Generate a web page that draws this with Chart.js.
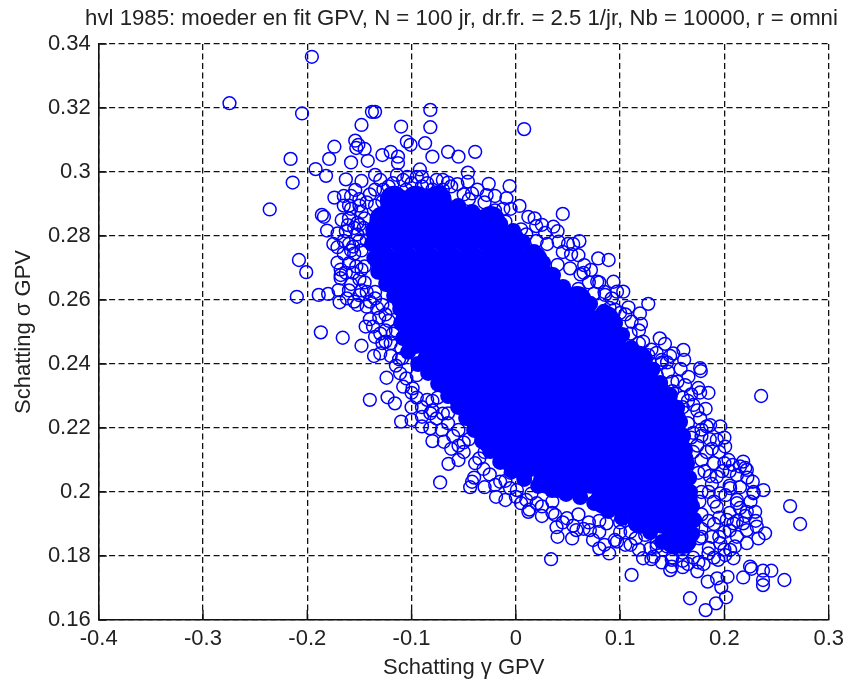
<!DOCTYPE html>
<html><head><meta charset="utf-8">
<style>html,body{margin:0;padding:0;background:#fff}#w{width:843px;height:686px}</style>
<script src="https://cdn.jsdelivr.net/npm/chart.js@4"></script>
</head><body><div id="w"><canvas id="c"></canvas></div>
<script>
const titleText = "hvl 1985: moeder en fit GPV, N = 100 jr, dr.fr. = 2.5 1/jr, Nb = 10000, r = omni";
const xLabel = "Schatting γ GPV";
const yLabel = "Schatting σ GPV";
const xTicks = [-0.4,-0.3,-0.2,-0.1,0,0.1,0.2,0.3];
const yTicks = [0.16,0.18,0.2,0.22,0.24,0.26,0.28,0.3,0.32,0.34];

// individually readable estimates, [gamma, sigma]
const outlierPoints = [
[-.2746,.3215],[-.1956,.336],[.008,.3134],[-.205,.3183],[-.138,.3188],[-.135,.3188],[-.082,.3194],[-.148,.3147],
[-.11,.3142],[-.082,.314],[-.154,.3098],[-.151,.3085],[-.1045,.3095],[-.101,.3085],[-.087,.309],[-.174,.3079],[-.145,.3072],[-.153,.3075],
[-.065,.3063],[-.039,.3063],[-.055,.3048],[-.08,.3048],[-.216,.3041],[-.179,.3041],[-.128,.3053],[-.12,.3063],
[-.113,.3048],[-.158,.303],[-.142,.3035],[-.113,.3028],[-.192,.3009],[-.182,.2988],[-.214,.2967],[-.163,.2977],
[-.148,.2972],[-.135,.2991],[-.092,.3008],[-.104,.2985],[-.114,.2991],[-.046,.2998],[-.046,.297],[-.076,.2975],
[-.065,.2967],[-.026,.2963],[-.006,.2956],[-.236,.2883],[-.186,.2866],[-.184,.286],[-.174,.292],[-.165,.2925],
[-.15,.2915],[-.154,.2944],[-.128,.2907],[-.009,.2918],[-.042,.2933],[-.028,.2928],[-.167,.285],[-.181,.2817],
[-.171,.2808],[-.171,.2765],[-.156,.2767],[-.208,.2725],[-.201,.2687],[-.171,.2717],[-.168,.2678],[-.152,.2841],
[-.161,.2834],[-.21,.261],[-.189,.2616],[-.18,.2619],[-.17,.2631],[-.168,.2668],[-.169,.2593],[-.155,.2595],
[-.187,.2499],[-.166,.2482],[-.148,.2457],[-.144,.2517],[-.136,.2425],[-.13,.2433],[-.109,.2418],[-.124,.2357],
[-.14,.2288],[-.123,.2296],[-.116,.2277],[-.11,.222],[-.1,.2225],[-.108,.2329],[-.099,.2324],[-.111,.2371],
[-.082,.2199],[-.08,.2159],[-.069,.2157],[-.085,.2288],[-.082,.2246],[-.076,.223],[-.065,.2246],[-.071,.2194],
[-.055,.2194],[-.143,.2579],[-.137,.2517],[-.128,.2465],[-.0726,.203],[-.0646,.2088],[-.055,.21],[-.039,.209],
[-.031,.2072],[-.0438,.2015],[-.042,.2032],[-.0198,.2022],[-.015,.2032],[-.019,.1985],[-.0055,.2012],[.001,.2006],
[.012,.1938],[.013,.1945],[.02,.1965],[.0338,.179],[.039,.189],[.04,.186],[.054,.1855],[.058,.1881],
[.074,.185],[.08,.1824],[.0895,.1808],[.097,.1845],[.11,.1876],[.0377,.1928],[.049,.1918],[.071,.1881],
[.087,.1902],[.124,.1866],[.111,.1741],[.122,.1793],[.129,.1824],[.135,.184],[.132,.1798],[.167,.1668],
[.182,.1631],[.192,.1652],[.2016,.1671],[.174,.1752],[.148,.1756],[.1495,.1767],[.184,.172],[.193,.173],
[.197,.1702],[.203,.1735],[.218,.1733],[.2246,.1767],[.226,.176],[.237,.1754],[.245,.1754],[.2575,.1725],
[.237,.1725],[.237,.1709],[.263,.1956],[.2726,.19],[.239,.1871],[.2326,.1855],[.2215,.184],[.2055,.1819],
[.2087,.1793],[.194,.1788],[.2007,.1803],[.1847,.1808],[.1495,.1788],[.135,.1829],[.2295,.1938],[.2215,.1938],
[.2215,.1881],[.212,.186],[.196,.184],[.231,.1892],[.218,.1902],[.2087,.1902],[.2023,.1913],[.2352,.23],
[.1847,.231],[.1767,.2311],[.1774,.2378],[.14,.2404],[.146,.2376],[.1655,.236],[.1623,.2334],[.1703,.2272],
[.1767,.223],[.1863,.2209],[.1927,.2163],[.2007,.2142],[.218,.2095],[.2215,.2069],[.212,.2053],[.204,.21],
[.2272,.2032],[.2374,.2006],[.2278,.1996],[.1927,.2048],[.2055,.2012],[.212,.1965],[.196,.1996],[.1927,.1954],
[.045,.2869],[.0035,.2894],[.061,.2784],[.079,.273],[.089,.2725],[.0655,.2709],[.072,.2694],[.053,.2743],
[.036,.2829],[.0195,.2831],[.005,.2821],[.0936,.2657],[.103,.2626],[.097,.2626],[.078,.2657],[.0856,.2616],
[.127,.2588],[.119,.2558],[.108,.2577],[.111,.2532],[.138,.248],[.143,.2463],[.1607,.2444],[.1614,.2413],
[.151,.2433],[.14,.2413],[.122,.247],[.127,.2428],[.1767,.2387],[.041,.2782],[.052,.2699]
];

// rings crowded along the edge of the cloud, [gamma, sigma]
const rimPoints = [
[-.135,.2895],[-.12,.2925],[-.105,.2945],[-.09,.2955],[-.07,.2945],[-.05,.293],[-.03,.2905],[-.012,.2885],
[.012,.286],[.028,.281],[.045,.275],[.062,.268],[.075,.262],[.095,.257],[.118,.2505],[.132,.2385],[.15,.2315],
[.16,.2265],[.168,.217],[.178,.21],[.185,.2],[.19,.19],[.178,.186],[.16,.181],[.145,.183],[.118,.182],
[.1,.1875],[.08,.191],[.06,.193],[.035,.197],[.015,.1995],[-.005,.206],[-.03,.2125],[-.05,.2155],[-.065,.2215],
[-.08,.2285],[-.095,.2365],[-.11,.245],[-.122,.2535],[-.135,.2625],[-.145,.2705],[-.15,.2785],[-.145,.2855],
[-.155,.2745],[-.158,.265],[-.148,.263],[-.14,.254],[-.125,.247],[-.115,.2395],[-.1,.231],[-.09,.2235],
[-.16,.2895],[-.148,.2875],[-.14,.293],[-.127,.2945],[-.118,.2965],[-.108,.2975],[-.095,.2985],[-.085,.2965],
[-.07,.2975],[-.056,.2962],[-.037,.2945],[-.02,.2925],[-.005,.2885],[-.163,.2815],[-.158,.2885],[-.152,.2805],
[-.146,.2825],[-.16,.2775],[-.143,.2785],[-.165,.2745],[-.16,.2715],[-.153,.2705],[-.163,.2685],[-.15,.2665],
[-.145,.2655],[-.16,.263],[-.152,.2585],[-.14,.2595],[-.133,.2575],[-.125,.2555],[-.118,.2495],[-.125,.2505],
[-.131,.2545],[-.12,.2425],[-.112,.2415],[-.105,.2355],[-.095,.2295],[-.09,.2265],[-.075,.2295],[-.07,.2245],
[-.06,.2175],[-.05,.2125],[-.045,.2165],[-.025,.2055],[-.035,.2105],[-.01,.2035],[0,.1985],[.01,.1975],
[.025,.1955],[.035,.1935],[.045,.1905],[.065,.1885],[.08,.1875],[.095,.185],[.105,.1835],[.115,.1855],
[.13,.179],[.14,.178],[.15,.1795],[.165,.1775],[.16,.1785],[.175,.178],[.185,.1825],[.195,.186],[.205,.188],
[.176,.1855],[.185,.191],[.195,.192],[.205,.1935],[.215,.195],[.225,.197],[.178,.193],[.19,.197],[.201,.199],
[.215,.2015],[.22,.2075],[.178,.2],[.186,.205],[.198,.2065],[.208,.2085],[.175,.206],[.183,.2125],[.195,.2125],
[.205,.2065],[.17,.2125],[.178,.2175],[.186,.2165],[.196,.2205],[.174,.2255],[.182,.226],
[.03,.2775],[.02,.2785],[.04,.271],[.055,.2775],[.06,.2635],[.07,.2655],[.085,.2625],[.09,.2575],[.1,.256],
[.11,.2495],[.12,.2525],[.13,.2445],[.135,.2365],[.145,.2405],[.15,.2345],[.158,.2385],[.16,.2295],[.165,.2215],
[.17,.2185],[.01,.2805],[-.01,.2845],[-.02,.288],[.018,.2855],
[-.175,.2775],[-.158,.2925],[-.15,.2895],[-.143,.2905],[-.135,.2945],[-.13,.2975],[-.122,.2955],[-.1,.2965],
[-.09,.2985],[-.08,.2945],[-.062,.2955],[-.045,.2915],[-.165,.2895],[-.16,.2855],[-.155,.2825],[-.15,.2835],
[-.165,.2785],[-.158,.2755],[-.148,.2755],[-.168,.2695],[-.156,.2685],[-.148,.2695],[-.162,.2605],[-.15,.2615],
[-.143,.2625],[-.135,.2605],[-.128,.2585],[-.12,.2575],[-.135,.2485],[-.13,.2495],[-.12,.2465],[-.115,.2505],
[-.1,.2265],[-.09,.2205],[-.08,.2255],[-.062,.2135],[-.055,.2145],[-.04,.2045],[-.03,.2015],[-.01,.1975],
[.005,.1965],[.025,.1925],[.055,.1895],[.07,.1905],[.085,.1835],[.1,.1905],[.11,.1835],
[.16,.1765],[.17,.1795],[.18,.1775],[.19,.1795],[.2,.182],[.21,.183],[.188,.186],[.2,.1875],[.22,.1925],
[.212,.191],[.17,.189],[.176,.197],[.188,.2025],[.205,.202],[.215,.208],[.2,.209],[.19,.209],[.181,.2065],
[.174,.2145],[.188,.2135],[.2,.217],[.183,.2205],[.178,.1885],[.228,.2],[.222,.2045],[.23,.191],[.212,.1975],
[.175,.2325],[.168,.2305],[.025,.2835],[.04,.2815],[.05,.2775],[.06,.274],[.065,.2685],[.08,.2655],[.092,.2605],
[.105,.2555],[.118,.2465],[.135,.2435],[.148,.2425],[.155,.2345],[.165,.2285],[.178,.2195]
];

// solid edge of the merged cloud, [gamma, sigma]
const edgePoints = [
[-.1224,.2888],[-.109,.2919],[-.0956,.2922],[-.0822,.2913],[-.0687,.2903],[-.0553,.2894],[-.0419,.2875],[-.0285,.2856],
[-.015,.2838],[-.0026,.2816],[.007,.2781],[.0175,.275],[.0261,.2716],[.0357,.2678],[.0453,.2641],[.0578,.2613],
[.0712,.2588],[.0846,.2563],[.0952,.2528],[.1019,.2491],[.1105,.245],[.123,.2419],[.1307,.2381],[.1384,.2341],
[.1479,.2303],[.1547,.2263],[.1575,.2219],[.1604,.2175],[.1623,.2131],[.1642,.2088],[.1662,.2044],[.1671,.2],
[.169,.1956],[.171,.1913],[.1691,.1869],[.1652,.1841],[.1527,.1834],[.1403,.1844],[.1288,.1875],[.1153,.19],
[.1019,.1919],[.0885,.1941],[.0751,.1966],[.0617,.1984],[.0482,.1994],[.0348,.2006],[.0214,.2019],[.008,.2041],
[-.0036,.2066],[-.015,.2094],[-.0246,.2128],[-.0323,.2159],[-.04,.2194],[-.0477,.2231],[-.0553,.2266],[-.0649,.23],
[-.0745,.2338],[-.0841,.2372],[-.0937,.24],[-.1033,.2438],[-.1081,.2481],[-.11,.2528],[-.1109,.2572],[-.1167,.2613],
[-.1244,.265],[-.132,.2688],[-.1358,.2731],[-.1378,.2775],[-.1368,.2819],[-.132,.2859],
[.0085,.2131],[.0295,.2131],[.0505,.2131],[.0715,.2131],[.0925,.2131],[.1135,.2131],[.1345,.2131],
[.012,.2069],[.0,.2069],[-.012,.2131],[.04,.2006],[.06,.2006],[.08,.2006],[.1,.1945],[.08,.1975]
];

// interior where the rings merge into solid blue, [gamma, sigma]
const corePoints = [
[-.117,.2913],[-.096,.2913],[-.075,.2913],
[-.127,.285],[-.106,.285],[-.085,.285],[-.064,.285],[-.043,.285],[-.024,.285],
[-.13,.2788],[-.109,.2788],[-.088,.2788],[-.067,.2788],[-.046,.2788],[-.025,.2788],[-.005,.2788],
[-.127,.2725],[-.106,.2725],[-.085,.2725],[-.064,.2725],[-.043,.2725],[-.022,.2725],[-.001,.2725],[.017,.2725],
[-.118,.2663],[-.097,.2663],[-.076,.2663],[-.055,.2663],[-.034,.2663],[-.013,.2663],[.008,.2663],[.029,.2663],
[-.106,.26],[-.085,.26],[-.064,.26],[-.043,.26],[-.022,.26],[-.001,.26],[.02,.26],[.041,.26],[.059,.26],
[-.102,.2538],[-.081,.2538],[-.06,.2538],[-.039,.2538],[-.018,.2538],[.003,.2538],[.024,.2538],[.045,.2538],[.066,.2538],[.086,.2538],
[-.097,.2475],[-.076,.2475],[-.055,.2475],[-.034,.2475],[-.013,.2475],[.008,.2475],[.029,.2475],[.05,.2475],[.071,.2475],[.092,.2475],
[-.081,.2413],[-.06,.2413],[-.039,.2413],[-.018,.2413],[.003,.2413],[.024,.2413],[.045,.2413],[.066,.2413],[.087,.2413],[.108,.2413],[.118,.2413],
[-.066,.235],[-.045,.235],[-.024,.235],[-.003,.235],[.018,.235],[.039,.235],[.06,.235],[.081,.235],[.102,.235],[.123,.235],
[-.05,.2288],[-.029,.2288],[-.008,.2288],[.013,.2288],[.034,.2288],[.055,.2288],[.076,.2288],[.097,.2288],[.118,.2288],[.139,.2288],
[-.035,.2225],[-.014,.2225],[.007,.2225],[.028,.2225],[.049,.2225],[.07,.2225],[.091,.2225],[.112,.2225],[.133,.2225],[.15,.2225],
[-.024,.2163],[-.003,.2163],[.018,.2163],[.039,.2163],[.06,.2163],[.081,.2163],[.102,.2163],[.123,.2163],[.144,.2163],[.153,.2163],
[-.002,.21],[.019,.21],[.04,.21],[.061,.21],[.082,.21],[.103,.21],[.124,.21],[.145,.21],[.157,.21],
[.03,.2038],[.051,.2038],[.072,.2038],[.093,.2038],[.114,.2038],[.135,.2038],[.156,.2038],
[.085,.1975],[.106,.1975],[.127,.1975],[.148,.1975],[.161,.1975],
[.12,.1913],[.141,.1913],[.162,.1913],
[.152,.185],[.16,.185]
];

const BLUE = 'rgb(0,0,255)';
const FONT = '"Liberation Sans", Arial, sans-serif';
const toXY = p => ({x: p[0], y: p[1]});

const innerTicks = {
  id: 'innerTicks',
  afterLayout(chart) {
    // the title is centred a little right of the canvas middle
    chart.titleBlock.left = 80;
    chart.titleBlock.right = 843;
  },
  beforeDatasetsDraw(chart) {
    const {ctx, chartArea: a, scales: {x, y}} = chart;
    ctx.save();
    ctx.strokeStyle = '#111';
    ctx.lineWidth = 1.4;
    ctx.beginPath();
    xTicks.forEach(v => { const p = x.getPixelForValue(v); ctx.moveTo(p, a.bottom); ctx.lineTo(p, a.bottom - 10); });
    yTicks.forEach(v => { const p = y.getPixelForValue(v); ctx.moveTo(a.left, p); ctx.lineTo(a.left + 8, p); });
    ctx.stroke();
    ctx.restore();
  }
};
const ring = { pointRadius: 6.4, pointBorderWidth: 1.5, pointBackgroundColor: 'rgba(0,0,0,0)', pointBorderColor: BLUE, clip: false };

new Chart(document.getElementById('c'), {
  type: 'scatter',
  plugins: [innerTicks],
  data: { datasets: [
    { label: 'core', data: corePoints.map(toXY), pointRadius: 14, pointBorderWidth: 0, pointBackgroundColor: BLUE, pointBorderColor: BLUE },
    { label: 'edge', data: edgePoints.map(toXY), pointRadius: 8, pointBorderWidth: 0, pointBackgroundColor: BLUE, pointBorderColor: BLUE },
    { label: 'rim', data: rimPoints.map(toXY), ...ring },
    { label: 'outliers', data: outlierPoints.map(toXY), ...ring }
  ]},
  options: {
    responsive: true, maintainAspectRatio: false, animation: false,
    layout: { padding: { left: 0, right: 14.3, top: 0, bottom: 0 } },
    plugins: {
      legend: { display: false }, tooltip: { enabled: false },
      title: { display: true, text: titleText, color: '#222', align: 'center',
        font: { family: FONT, size: 22.2, weight: 'normal', lineHeight: 1.2 },
        padding: { top: 6, bottom: 11.36 } }
    },
    scales: {
      x: { type: 'linear', min: -0.4, max: 0.3,
        afterFit(s) { s.height = 66; s.paddingLeft = 0; s.paddingRight = 0; },
        afterBuildTicks(s) { s.ticks = xTicks.map(v => ({value: v})); },
        grid: { color: '#111', lineWidth: 1.3, drawTicks: false },
        border: { display: true, color: '#111', width: 1.6, dash: [6, 3.5] },
        ticks: { color: '#222', padding: 6, maxRotation: 0, autoSkip: false,
          font: { family: FONT, size: 22 }, callback: v => String(+v.toFixed(2)) },
        title: { display: true, text: xLabel, color: '#222',
          font: { family: FONT, size: 22, lineHeight: 1.2 }, padding: { top: 0, bottom: 5 } } },
      y: { type: 'linear', min: 0.16, max: 0.34,
        afterFit(s) { s.width = 98.7; s.paddingTop = 0; s.paddingBottom = 0; },
        afterBuildTicks(s) { s.ticks = yTicks.map(v => ({value: v})); },
        grid: { color: '#111', lineWidth: 1.3, drawTicks: false },
        border: { display: true, color: '#111', width: 1.6, dash: [6, 3.5] },
        ticks: { color: '#222', padding: 8, autoSkip: false,
          font: { family: FONT, size: 22 }, callback: v => String(+v.toFixed(2)) },
        title: { display: true, text: yLabel, color: '#222',
          font: { family: FONT, size: 22, lineHeight: 1.2 }, padding: { top: 11, bottom: 0 } } }
    }
  }
});
</script></body></html>
